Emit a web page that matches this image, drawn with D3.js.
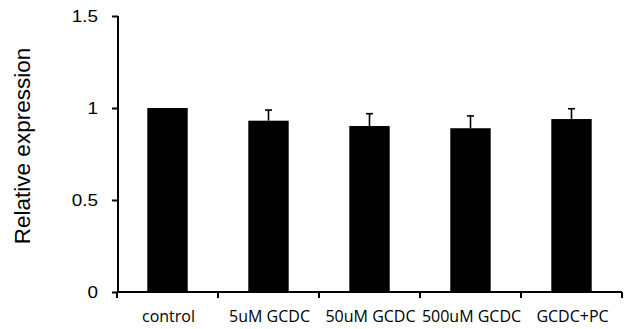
<!DOCTYPE html>
<html><head><meta charset="utf-8">
<script src="https://cdn.jsdelivr.net/npm/d3@7"></script>
<style>body{margin:0;background:#fff}svg{display:block}</style>
</head><body>
<svg id="c" width="632" height="329"></svg>
<script>
const categories = ["control", "5uM GCDC", "50uM GCDC", "500uM GCDC", "GCDC+PC"];
const values = [1.0, 0.931, 0.902, 0.89, 0.94];
const errors = [0, 0.058, 0.067, 0.067, 0.056];
const yTicks = [0, 0.5, 1, 1.5];
const yTickLabels = ["0", "0.5", "1", "1.5"];
const yLabel = "Relative expression";

const svg = d3.select("#c");
const x = d3.scaleBand().domain(categories).range([117, 622]).paddingInner(0.6).paddingOuter(0.3);
const xb = d3.scaleBand().domain(categories).range([117, 622]);
const y = d3.scaleLinear().domain([0, 1.5]).range([292, 16]);

// bars
svg.selectAll("rect.bar").data(categories).enter().append("rect")
  .attr("x", d => x(d)).attr("width", x.bandwidth())
  .attr("y", (d, i) => y(values[i])).attr("height", (d, i) => y(0) - y(values[i]))
  .attr("fill", "#000");

// error bars
const eb = svg.append("g").attr("stroke", "#000").attr("stroke-width", 1.6);
categories.forEach((d, i) => {
  if (!errors[i]) return;
  const cx = x(d) + x.bandwidth() / 2;
  eb.append("line").attr("x1", cx).attr("x2", cx).attr("y1", y(values[i])).attr("y2", y(values[i] + errors[i]));
  eb.append("line").attr("x1", cx - 3.5).attr("x2", cx + 3.5).attr("y1", y(values[i] + errors[i])).attr("y2", y(values[i] + errors[i]));
});

// y axis
const yAxis = d3.axisLeft(y).tickValues(yTicks).tickSize(6).tickFormat((d, i) => yTickLabels[i]);
const gy = svg.append("g").attr("transform", "translate(118,0)").call(yAxis);
gy.select(".domain").attr("d", "M0," + y(1.5) + "V" + (y(0)+1)).attr("stroke-width", 2);
gy.selectAll(".tick line").attr("stroke-width", 2);
gy.selectAll(".tick text").attr("x", -20).attr("dy", "0.36em")
  .attr("font-family", "Liberation Sans, Arial, sans-serif").attr("font-size", 16).attr("fill", "#000")
  .each(function() {
    const t = d3.select(this);
    const tx = +t.attr("x");
    t.attr("transform", "translate(" + tx + ",0) scale(1.18,1) translate(" + (-tx) + ",0)");
  });

// x axis
const gx = svg.append("g").attr("transform", "translate(0,292)");
gx.append("line").attr("x1", 117).attr("x2", 622).attr("stroke", "#000").attr("stroke-width", 2);
const bounds = categories.map(d => xb(d)).concat([xb.range()[1]]);
gx.selectAll("line.t").data(bounds).enter().append("line")
  .attr("x1", d => d).attr("x2", d => d).attr("y1", 0).attr("y2", 6)
  .attr("stroke", "#000").attr("stroke-width", 2);
gx.selectAll("text").data(categories).enter().append("text")
  .attr("x", d => xb(d) + xb.bandwidth() / 2 + 1).attr("y", 30)
  .attr("text-anchor", "middle").attr("font-family", "Open Sans, sans-serif")
  .attr("font-size", 16).attr("fill", "#000").text(d => d);

// y label
svg.append("text").attr("transform", "translate(30,146) rotate(-90)")
  .attr("text-anchor", "middle").attr("font-family", "Liberation Sans, Arial, sans-serif")
  .attr("font-size", 22.5).attr("fill", "#000").text(yLabel);
</script>
</body></html>
